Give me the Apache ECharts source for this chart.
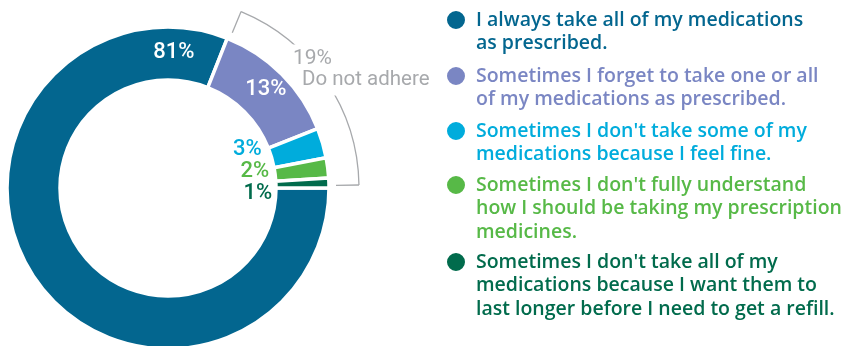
<!DOCTYPE html>
<html>
<head>
<meta charset="utf-8">
<script src="https://cdn.jsdelivr.net/npm/echarts@6/dist/echarts.min.js"></script>
<style>
  html, body { margin: 0; padding: 0; background: #ffffff; }
  #chart { width: 841px; height: 346px; }
</style>
</head>
<body>
<div id="chart"></div>
<script>
// Survey answers on medication adherence (share of respondents, %)
const categories = [
  'I always take all of my medications\nas prescribed.',
  'Sometimes I forget to take one or all\nof my medications as prescribed.',
  "Sometimes I don't take some of my\nmedications because I feel fine.",
  "Sometimes I don't fully understand\nhow I should be taking my prescription\nmedicines.",
  "Sometimes I don't take all of my\nmedications because I want them to\nlast longer before I need to get a refill."
];
const shares = [81, 13, 3, 2, 1];
const groupName = 'Do not adhere';

const colors = ['#03668f', '#7a86c3', '#00acdc', '#57b947', '#016b4c'];
const labelColors = ['#ffffff', '#ffffff', '#00acdc', '#57b947', '#016b4c'];
const grey = '#a7a9ac';

// ring geometry (px)
const CX = 168, CY = 188, R_IN = 108, R_OUT = 161, BRACKET_R = 191, TICK_R = 168;
// label anchors as [radius, degrees counter-clockwise from 3 o'clock]
const labelSpots = [[136, 87.5], [139, 45.3], [88, 25.7], [88.6, 11], [90, -3.8]];
// legend: circle centre y of each entry
const legendCentres = [20, 76, 131, 185, 262];
const LH = 23.5;

const total = shares.reduce((a, b) => a + b, 0);
const notAdhere = total - shares[0];
const groupSweep = notAdhere / total * 360;
const rad = d => d * Math.PI / 180;

const chart = echarts.init(document.getElementById('chart'), null, { renderer: 'canvas' });

// each entry is its own legend so the dot sits beside the first line;
// leading blank lines keep the first text line centred on the dot
const legends = categories.map((name, i) => {
  const lines = name.split('\n').length;
  return {
    data: [{ name, textStyle: { color: colors[i] } }],
    left: 445,
    top: legendCentres[i] - (lines - 0.5) * LH,
    padding: 0,
    icon: 'circle',
    itemWidth: 20,
    itemHeight: 20,
    selectedMode: false,
    formatter: n => '\n'.repeat(lines - 1) + n,
    textStyle: {
      fontFamily: 'Open Sans',
      fontWeight: 600,
      fontSize: 19.5,
      lineHeight: LH,
      padding: [0, 0, 0, 5]
    }
  };
});

// bracket around the "do not adhere" answers
const a0 = 0.9, a1 = groupSweep - 0.9;
const graphics = [
  {
    type: 'arc', z: 10,
    shape: { cx: CX, cy: CY, r: BRACKET_R, startAngle: -rad(a1), endAngle: -rad(a0), clockwise: true },
    style: { stroke: grey, fill: null, lineWidth: 1.3 }
  },
  ...[a0, a1].map(a => ({
    type: 'line', z: 10,
    shape: {
      x1: CX + TICK_R * Math.cos(rad(a)), y1: CY - TICK_R * Math.sin(rad(a)),
      x2: CX + BRACKET_R * Math.cos(rad(a)), y2: CY - BRACKET_R * Math.sin(rad(a))
    },
    style: { stroke: grey, lineWidth: 1.3 }
  })),
  {
    type: 'text', z: 11, x: 289, y: 59,
    style: {
      text: notAdhere + '%', fill: grey, font: '21px Roboto',
      verticalAlign: 'middle', backgroundColor: '#fff', padding: [5, 4, 3, 4]
    }
  },
  {
    type: 'text', z: 11, x: 298, y: 80,
    style: {
      text: groupName, fill: grey, font: '20.5px Roboto',
      verticalAlign: 'middle', backgroundColor: '#fff', padding: [2, 4, 8, 4]
    }
  }
];

chart.setOption({
  animation: false,
  legend: legends,
  graphic: graphics,
  series: [{
    type: 'pie',
    center: [CX, CY],
    radius: [R_IN, R_OUT],
    startAngle: 0,
    clockwise: true,
    avoidLabelOverlap: false,
    itemStyle: { borderColor: '#ffffff', borderWidth: 3.5 },
    label: {
      show: true,
      position: 'inside',
      formatter: p => p.value + '%',
      fontFamily: 'Roboto',
      fontWeight: 500,
      fontSize: 22,
      color: '#fff'
    },
    labelLine: { show: false },
    emphasis: { disabled: true },
    labelLayout: p => {
      const [r, a] = labelSpots[p.dataIndex];
      return {
        x: CX + r * Math.cos(rad(a)),
        y: CY - r * Math.sin(rad(a)),
        align: 'center',
        verticalAlign: 'middle'
      };
    },
    data: categories.map((name, i) => ({
      name,
      value: shares[i],
      itemStyle: { color: colors[i] },
      label: { color: labelColors[i] }
    }))
  }]
});
</script>
</body>
</html>
